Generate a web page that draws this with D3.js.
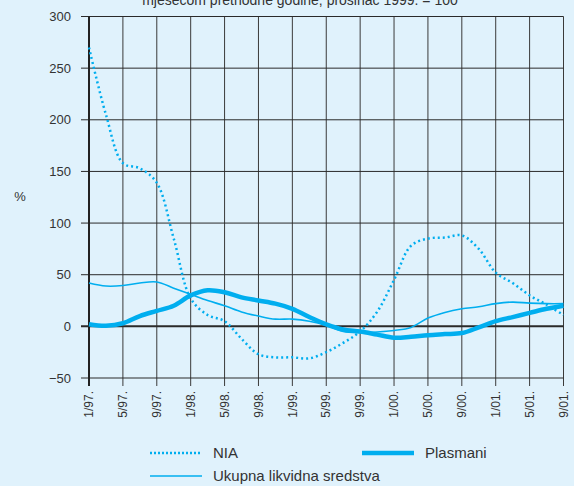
<!DOCTYPE html>
<html>
<head>
<meta charset="utf-8">
<script src="https://cdn.jsdelivr.net/npm/d3@7"></script>
<style>
  body { margin: 0; background: #e0f2fc; }
  svg { display: block; font-family: "Liberation Sans", Arial, sans-serif; }
</style>
</head>
<body>
<div id="chart"></div>
<script>
// Months since 1/97 (every second month)
const monthIdx = [0, 2, 4, 6, 8, 10, 12, 14, 16, 18, 20, 22, 24, 26, 28,
                  30, 32, 34, 36, 38, 40, 42, 44, 46, 48, 50, 52, 54, 56];

const nia = [270, 205, 158, 153, 139, 85, 27, 11, 5, -12, -27, -30, -30, -31, -25,
             -16, -5, 14, 45, 78, 85, 86, 88, 75, 52, 42, 30, 21, 11];

const plasmani = [2, 0.5, 3, 10, 15, 20, 30, 35, 33, 28, 25, 22, 17, 9, 2,
                  -3, -5, -8, -11, -10, -8.5, -7.5, -6.5, -1, 5, 9, 13, 17, 20];

const likvidna = [42, 39, 39.5, 42, 43, 37, 31, 25, 20, 14, 10, 7, 7, 5, 1,
                  -5, -6, -5.5, -4, -1, 8, 13.5, 17, 19, 22, 23.5, 22.5, 22, 22];

const tickLabels = ["1/97.", "5/97.", "9/97.", "1/98.", "5/98.", "9/98.", "1/99.", "5/99.",
                    "9/99.", "1/00.", "5/00.", "9/00.", "1/01.", "5/01.", "9/01."];
const yTicks = [-50, 0, 50, 100, 150, 200, 250, 300];

const W = 574, H = 486;
const plotLeft = 89, plotRight = 563.5, plotTop = 16.5, plotBottom = 378;
const lineColor = "#00aeef";

const svg = d3.select("#chart").append("svg")
    .attr("width", W)
    .attr("height", H);

const x = d3.scaleLinear().domain([0, 56]).range([plotLeft, plotRight]);
const y = d3.scaleLinear().domain([-50, 300]).range([plotBottom, plotTop]);

// Title (cut off at top edge, as in the original)
svg.append("text")
    .attr("x", 300)
    .attr("y", 5)
    .attr("text-anchor", "middle")
    .attr("font-size", 14)
    .attr("fill", "#333")
    .text("mjesecom prethodne godine, prosinac 1999. = 100");

// Vertical gridlines
svg.append("g")
    .selectAll("line")
    .data(tickLabels)
    .join("line")
    .attr("x1", (d, i) => x(i * 4))
    .attr("x2", (d, i) => x(i * 4))
    .attr("y1", plotTop)
    .attr("y2", plotBottom + 8)
    .attr("stroke", "#3a3a3a")
    .attr("stroke-width", 1);

// Horizontal gridlines
svg.append("g")
    .selectAll("line")
    .data(yTicks)
    .join("line")
    .attr("x1", plotLeft - 8)
    .attr("x2", plotRight)
    .attr("y1", d => y(d))
    .attr("y2", d => y(d))
    .attr("stroke", "#2a2a2a")
    .attr("stroke-width", d => d === 0 ? 2 : 1);

// Left axis line
svg.append("line")
    .attr("x1", plotLeft).attr("x2", plotLeft)
    .attr("y1", plotTop).attr("y2", plotBottom + 8)
    .attr("stroke", "#222")
    .attr("stroke-width", 2);

// Y tick labels
svg.append("g")
    .selectAll("text")
    .data(yTicks)
    .join("text")
    .attr("x", 71)
    .attr("y", d => y(d))
    .attr("dy", "0.35em")
    .attr("text-anchor", "end")
    .attr("font-size", 13)
    .attr("fill", "#333")
    .text(d => d < 0 ? "\u2212" + Math.abs(d) : d);

svg.append("text")
    .attr("x", 20)
    .attr("y", 201)
    .attr("text-anchor", "middle")
    .attr("font-size", 13)
    .attr("fill", "#333")
    .text("%");

// X tick labels (rotated)
svg.append("g")
    .selectAll("text")
    .data(tickLabels)
    .join("text")
    .attr("transform", (d, i) => `translate(${x(i * 4)},391) rotate(-90)`)
    .attr("dy", "0.35em")
    .attr("text-anchor", "end")
    .attr("font-size", 12)
    .attr("fill", "#333")
    .text(d => d);

// Lines
const line = d3.line()
    .x((d, i) => x(monthIdx[i]))
    .y(d => y(d))
    .curve(d3.curveCatmullRom.alpha(0.5));

svg.append("path")
    .attr("d", line(likvidna))
    .attr("fill", "none")
    .attr("stroke", lineColor)
    .attr("stroke-width", 1.6);

svg.append("path")
    .attr("d", line(plasmani))
    .attr("fill", "none")
    .attr("stroke", lineColor)
    .attr("stroke-width", 4.5);

svg.append("path")
    .attr("d", line(nia))
    .attr("fill", "none")
    .attr("stroke", lineColor)
    .attr("stroke-width", 2.5)
    .attr("stroke-dasharray", "2,3");

// Legend
const legend = [
  { name: "NIA", x: 150, y: 453, width: 2.5, dash: "2,2" },
  { name: "Plasmani", x: 362, y: 453, width: 4.5, dash: null },
  { name: "Ukupna likvidna sredstva", x: 150, y: 476, width: 1.6, dash: null }
];

const lg = svg.append("g")
    .selectAll("g")
    .data(legend)
    .join("g")
    .attr("transform", d => `translate(${d.x},${d.y})`);

lg.append("line")
    .attr("x1", 0).attr("x2", 52)
    .attr("stroke", lineColor)
    .attr("stroke-width", d => d.width)
    .attr("stroke-dasharray", d => d.dash);

lg.append("text")
    .attr("x", 63)
    .attr("dy", "0.35em")
    .attr("font-size", 15)
    .attr("fill", "#333")
    .text(d => d.name);
</script>
</body>
</html>
